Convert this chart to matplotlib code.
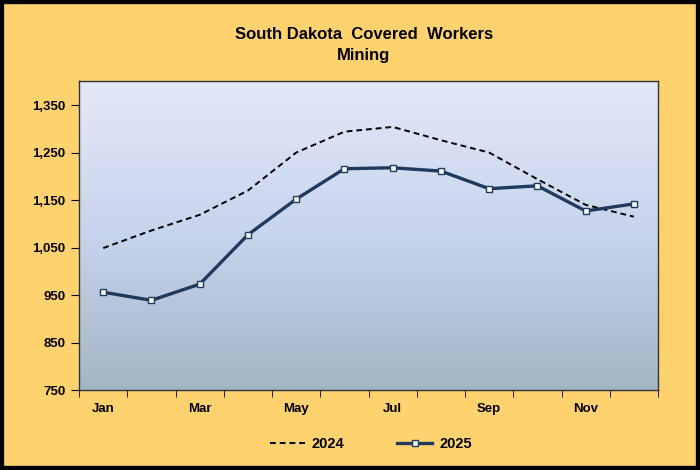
import matplotlib.pyplot as plt
import numpy as np
from matplotlib.patches import Rectangle

plt.rcParams['font.family'] = ['Liberation Sans', 'DejaVu Sans']

months = ['Jan', 'Feb', 'Mar', 'Apr', 'May', 'Jun',
          'Jul', 'Aug', 'Sep', 'Oct', 'Nov', 'Dec']
workers_2024 = [1049, 1086, 1119, 1170, 1250, 1294, 1304, 1276, 1250, 1194, 1140, 1115]
workers_2025 = [956, 939, 973, 1077, 1152, 1216, 1218, 1211, 1174, 1180, 1127, 1142]
y_ticks = [750, 850, 950, 1050, 1150, 1250, 1350]

fig = plt.figure(figsize=(7, 4.7), dpi=100)
fig.patch.set_facecolor('#FFD270')
# outer black border
fig.patches.append(Rectangle((0, 0), 1, 1, transform=fig.transFigure,
                             fill=False, edgecolor='black', linewidth=6))

ax = fig.add_axes([0.113, 0.170, 0.827, 0.657])
x = np.arange(len(months))

# gradient background
grad = np.linspace(0, 1, 256).reshape(-1, 1)
top = np.array([0.89, 0.91, 0.965])
mid = np.array([0.78, 0.83, 0.93])
bot = np.array([0.64, 0.71, 0.77])
cols = np.where(grad[..., None] < 0.5,
                top + (mid - top) * (grad[..., None] / 0.5),
                mid + (bot - mid) * ((grad[..., None] - 0.5) / 0.5))
ax.imshow(cols, extent=[0, 1, 0, 1], transform=ax.transAxes,
          aspect='auto', zorder=0)

ax.plot(x, workers_2024, color='black', linestyle=(0, (3, 2)), linewidth=1.4,
        label='2024', zorder=3)
ax.plot(x, workers_2025, color='#1F3A5F', linewidth=2.4, marker='s',
        markersize=4.5, markerfacecolor='white', markeredgecolor='#1F3A5F',
        markeredgewidth=1, label='2025', zorder=4)

ax.set_xlim(-0.5, 11.5)
ax.set_ylim(750, 1400)
ax.set_yticks(y_ticks)
ax.set_yticklabels([f'{v:,}' for v in y_ticks], fontsize=9.5, fontweight='bold')
ax.set_xticks(x[::2])
ax.set_xticklabels(months[::2], fontsize=9.5, fontweight='bold')
ax.tick_params(axis='x', which='major', length=0, pad=9)
ax.set_xticks(np.arange(-0.5, 12, 1), minor=True)
ax.tick_params(axis='x', which='minor', length=5, direction='out', color='black')
ax.tick_params(axis='y', length=6, direction='out', pad=4)

for s in ax.spines.values():
    s.set_linewidth(1.0)
    s.set_color('#333333')

fig.text(0.52, 0.926, 'South Dakota  Covered  Workers', ha='center', va='center',
         fontsize=12, fontweight='bold')
fig.text(0.52, 0.882, 'Mining', ha='center', va='center',
         fontsize=12, fontweight='bold')

leg = ax.legend(loc='upper center', bbox_to_anchor=(0.504, -0.11), ncol=2,
                frameon=False, fontsize=10.5, handlelength=2.4, handletextpad=0.5,
                columnspacing=3.6)
for t in leg.get_texts():
    t.set_fontweight('bold')

fig.savefig('out.png', dpi=100, facecolor=fig.get_facecolor())
